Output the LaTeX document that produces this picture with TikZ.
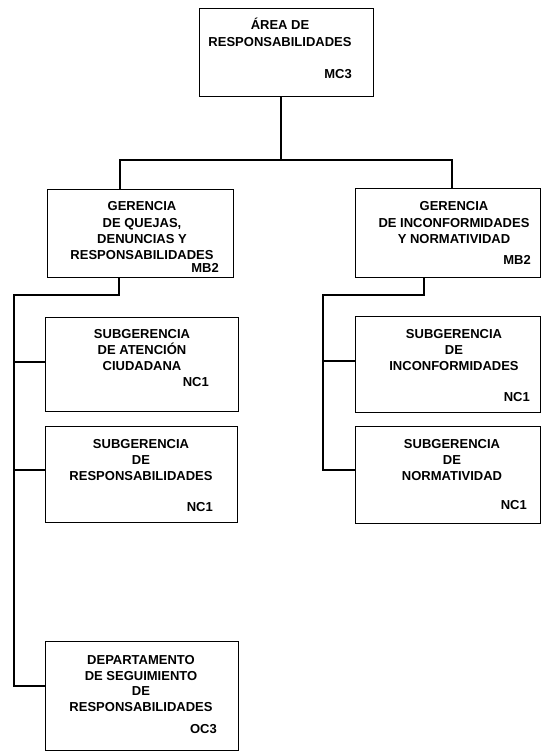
\documentclass[tikz,border=0pt]{standalone}
\usepackage{fontspec}
\setmainfont{Liberation Sans}
\begin{document}
\begin{tikzpicture}[x=1pt,y=-1pt,
  box/.style={draw,line width=1.3pt,inner sep=0pt},
  conn/.style={line width=1.3pt,line cap=rect},
  txt/.style={inner sep=0pt,anchor=base,font=\bfseries\fontsize{13}{16}\selectfont},
  code/.style={inner sep=0pt,anchor=base east,font=\bfseries\fontsize{13}{16}\selectfont}]
\useasboundingbox (0,0) rectangle (541,751);
% boxes
\node[box,anchor=north west,minimum width=174pt,minimum height=88pt] (top) at (199,8) {};
\node[box,anchor=north west,minimum width=186pt,minimum height=88pt] (gl) at (47,189) {};
\node[box,anchor=north west,minimum width=185pt,minimum height=89pt] (gr) at (355,188) {};
\node[box,anchor=north west,minimum width=193pt,minimum height=94pt] (s1) at (45,317) {};
\node[box,anchor=north west,minimum width=192pt,minimum height=96pt] (s2) at (45,426) {};
\node[box,anchor=north west,minimum width=185pt,minimum height=96pt] (s3) at (355,316) {};
\node[box,anchor=north west,minimum width=185pt,minimum height=97pt] (s4) at (355,426) {};
\node[box,anchor=north west,minimum width=193pt,minimum height=109pt] (dep) at (45,641) {};
% texts
\node[txt] (t1a) at (280,30) {ÁREA DE};
\node[txt] (t1b) at (280,47) {RESPONSABILIDADES};
\node[code] (c1) at (352,79) {MC3};
\node[txt] (t2a) at (142,211) {GERENCIA};
\node[txt] (t2b) at (142,227) {DE QUEJAS,};
\node[txt] (t2c) at (142,243) {DENUNCIAS Y};
\node[txt] (t2d) at (142,259) {RESPONSABILIDADES};
\node[code] (c2) at (219,272) {MB2};
\node[txt] (t3a) at (454,211) {GERENCIA};
\node[txt] (t3b) at (454,227) {DE INCONFORMIDADES};
\node[txt] (t3c) at (454,243) {Y NORMATIVIDAD};
\node[code] (c3) at (531,264) {MB2};
\node[txt] (t4a) at (142,338) {SUBGERENCIA};
\node[txt] (t4b) at (142,354) {DE ATENCIÓN};
\node[txt] (t4c) at (142,370) {CIUDADANA};
\node[code] (c4) at (209,386) {NC1};
\node[txt] (t5a) at (141,448) {SUBGERENCIA};
\node[txt] (t5b) at (141,464) {DE};
\node[txt] (t5c) at (141,480) {RESPONSABILIDADES};
\node[code] (c5) at (213,511) {NC1};
\node[txt] (t6a) at (454,338) {SUBGERENCIA};
\node[txt] (t6b) at (454,354) {DE};
\node[txt] (t6c) at (454,370) {INCONFORMIDADES};
\node[code] (c6) at (530,401) {NC1};
\node[txt] (t7a) at (452,448) {SUBGERENCIA};
\node[txt] (t7b) at (452,464) {DE};
\node[txt] (t7c) at (452,480) {NORMATIVIDAD};
\node[code] (c7) at (527,509) {NC1};
\node[txt] (t8a) at (141,664) {DEPARTAMENTO};
\node[txt] (t8b) at (141,680) {DE SEGUIMIENTO};
\node[txt] (t8c) at (141,695) {DE};
\node[txt] (t8d) at (141,711) {RESPONSABILIDADES};
\node[code] (c8) at (217,733) {OC3};
% connectors
\coordinate (j0) at (281,160);
\coordinate (jl) at (120,160);
\coordinate (jr) at (452,160);
\draw[conn] (top.south -| j0) -- (j0);
\draw[conn] (jl) -- (jr);
\draw[conn] (jl) -- (jl |- gl.north);
\draw[conn] (jr) -- (jr |- gr.north);
% left branch
\coordinate (la) at (119,295);
\coordinate (lb) at (14,295);
\coordinate (l1) at (14,362);
\coordinate (l2) at (14,470);
\coordinate (l3) at (14,686);
\draw[conn] (gl.south -| la) -- (la) -- (lb) -- (l3);
\draw[conn] (l1) -- (l1 -| s1.west);
\draw[conn] (l2) -- (l2 -| s2.west);
\draw[conn] (l3) -- (l3 -| dep.west);
% right branch
\coordinate (ra) at (424,295);
\coordinate (rb) at (323,295);
\coordinate (r1) at (323,361);
\coordinate (r2) at (323,470);
\draw[conn] (gr.south -| ra) -- (ra) -- (rb) -- (r2);
\draw[conn] (r1) -- (r1 -| s3.west);
\draw[conn] (r2) -- (r2 -| s4.west);
\end{tikzpicture}
\end{document}
